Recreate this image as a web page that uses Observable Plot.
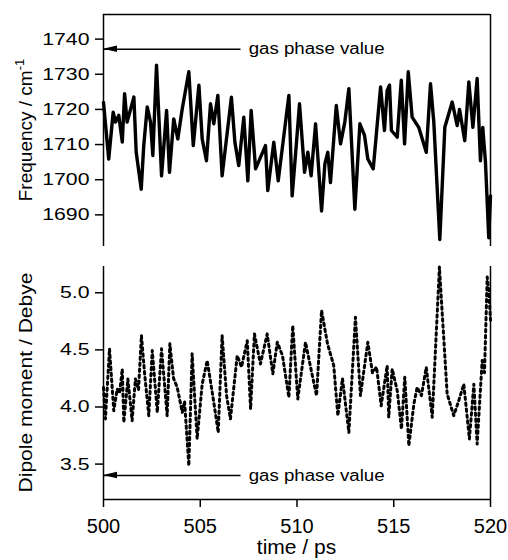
<!DOCTYPE html>
<html><head><meta charset="utf-8">
<script src="https://cdn.jsdelivr.net/npm/d3@7"></script>
<script src="https://cdn.jsdelivr.net/npm/@observablehq/plot@0.6"></script>
<style>
body{margin:0;background:#fff;}
#chart{width:508px;height:560px;position:relative;font-family:"Liberation Sans",Arial,sans-serif;background:#fff;}
#chart svg{display:block;}
</style></head><body><div id="chart"></div>
<script>
const timeTicks = [500, 505, 510, 515, 520];
const freqTicks = [1690, 1700, 1710, 1720, 1730, 1740];
const dipoleTicks = [3.5, 4.0, 4.5, 5.0];
const gasFreq = 1737.1;
const gasDipole = 3.4;
const gasLabel = "gas phase value";

const freqTime = [500.0,500.27,500.50,500.62,500.79,500.97,501.09,501.22,501.57,501.69,501.95,502.08,502.26,502.43,502.55,502.74,503.00,503.26,503.41,503.63,503.84,504.07,504.41,504.64,504.93,505.10,505.32,505.53,505.70,505.91,506.13,506.61,506.79,506.99,507.25,507.46,507.63,507.86,508.37,508.49,508.80,509.03,509.58,509.75,509.92,510.13,510.39,510.56,510.73,510.96,511.27,511.44,511.59,511.73,512.03,512.25,512.47,512.68,512.99,513.25,513.49,513.66,513.94,514.11,514.32,514.52,514.66,514.78,514.88,515.18,515.39,515.56,515.75,515.95,516.29,516.68,516.90,517.07,517.38,517.64,518.02,518.28,518.40,518.67,518.88,519.09,519.31,519.48,519.60,519.74,519.91,520.0];
const freqValue = [1722,1705.9,1719.2,1716.4,1718.3,1710.7,1724.5,1716.4,1723.5,1707.8,1697.3,1709.7,1720.7,1716.4,1706.9,1732.6,1701.1,1719.7,1702.1,1717.3,1711.6,1720.2,1730.7,1709.7,1726.9,1711.6,1705.4,1721.6,1715.9,1724,1701.1,1723.5,1710.7,1704,1717.8,1699.7,1719.7,1703.1,1709.7,1696.9,1710.7,1699.7,1724,1695.4,1706.9,1721.6,1702.1,1707.8,1701.1,1715.9,1691.1,1704.5,1707.8,1699.2,1721.1,1710.2,1716.4,1725.9,1691.6,1715.9,1712.6,1705.9,1703.1,1713.5,1726.4,1714,1725.4,1726.9,1714,1712.1,1728.3,1710.2,1730.7,1717.8,1714.9,1707.8,1727.3,1716.4,1683,1714.9,1722.1,1715.4,1720,1711.1,1727.8,1714.9,1728.8,1705.4,1714.9,1705,1683.5,1695.4];

const dipTime = [500.00,500.10,500.31,500.53,500.71,500.83,500.97,501.05,501.26,501.48,501.65,501.81,501.96,502.12,502.34,502.52,502.78,503.00,503.29,503.43,503.62,503.81,504.07,504.19,504.41,504.58,504.84,505.10,505.36,505.70,505.93,506.13,506.36,506.56,506.91,507.13,507.43,507.60,507.80,508.11,508.46,508.75,508.98,509.25,509.58,509.78,510.04,510.44,510.70,511.01,511.27,511.58,511.90,512.11,512.35,512.68,513.02,513.28,513.66,513.90,514.11,514.35,514.66,514.74,514.92,515.18,515.40,515.57,515.78,516.04,516.21,516.43,516.68,516.99,517.36,517.76,518.10,518.35,518.62,518.91,519.14,519.31,519.57,519.69,519.83,519.91,520.00];
const dipValue = [4.17,3.895,4.509,3.968,4.158,4.12,4.333,3.865,4.246,3.88,4.246,4.15,4.625,4.3,3.924,4.494,3.953,4.509,3.924,4.553,4.25,4.172,3.953,4.05,3.485,4.465,3.72,4.2,4.406,4.04,3.777,4.625,4.1,3.895,4.45,4.35,4.58,3.982,4.64,4.377,4.64,4.29,4.567,4.45,4.084,4.713,4.07,4.567,4.35,4.1,4.845,4.55,4.362,3.924,4.25,3.777,4.786,4.1,4.567,4.3,4.35,4.011,4.362,3.91,4.333,4.143,3.807,4.26,3.66,4.026,4.172,4.1,4.347,3.91,5.225,4.114,3.924,4.05,4.2,3.72,4.2,3.675,4.406,4.3,5.137,5.02,4.76];

const freqData = freqTime.map((t, i) => ({t, v: freqValue[i]}));
const dipData = dipTime.map((t, i) => ({t, v: dipValue[i]}));

const xDomain = [500, 520];
const freqDomain = [1681, 1747];
const dipDomain = [3.19, 5.23];
const arrowTail = 507.08, labelStart = 507.5;
const font = "Liberation Sans, Arial, sans-serif";

const topPlot = Plot.plot({
  width: 508, height: 252,
  marginLeft: 103, marginRight: 18, marginTop: 14, marginBottom: 6,
  style: {fontFamily: font, background: "white", color: "black"},
  x: {domain: xDomain, axis: null},
  y: {domain: freqDomain},
  marks: [
    Plot.axisY({ticks: freqTicks, tickFormat: d => String(d), tickSize: 8, tickPadding: 6, fontSize: 17, strokeWidth: 1.5, label: null}),
    Plot.ruleX(xDomain, {strokeWidth: 1.5}),
    Plot.ruleY([freqDomain[1]], {strokeWidth: 1.5}),
    Plot.line(freqData, {x: "t", y: "v", strokeWidth: 3.4, strokeLinejoin: "round"}),
    Plot.link([{x1: arrowTail, x2: xDomain[0], y: gasFreq}], {x1: "x1", x2: "x2", y1: "y", y2: "y", strokeWidth: 1.5}),
    Plot.text([{x: labelStart, y: gasFreq, text: gasLabel}], {x: "x", y: "y", text: "text", textAnchor: "start", fontSize: 16})
  ]
});

const botPlot = Plot.plot({
  width: 508, height: 308,
  marginLeft: 103, marginRight: 18, marginTop: 14, marginBottom: 61,
  style: {fontFamily: font, background: "white", color: "black"},
  x: {domain: xDomain},
  y: {domain: dipDomain},
  marks: [
    Plot.axisY({ticks: dipoleTicks, tickFormat: d3.format(".1f"), tickSize: 8, tickPadding: 6, fontSize: 17, strokeWidth: 1.5, label: null}),
    Plot.axisX({ticks: timeTicks, tickFormat: d => String(d), tickSize: 8, tickPadding: 11, fontSize: 20, strokeWidth: 1.5, label: null}),
    Plot.ruleX(xDomain, {strokeWidth: 1.5}),
    Plot.ruleY([dipDomain[0]], {strokeWidth: 1.5}),
    Plot.line(dipData, {x: "t", y: "v", strokeWidth: 3, strokeDasharray: "2.5,3.5"}),
    Plot.link([{x1: arrowTail, x2: xDomain[0], y: gasDipole}], {x1: "x1", x2: "x2", y1: "y", y2: "y", strokeWidth: 1.5}),
    Plot.text([{x: labelStart, y: gasDipole, text: gasLabel}], {x: "x", y: "y", text: "text", textAnchor: "start", fontSize: 16})
  ]
});

const chart = document.getElementById("chart");
chart.appendChild(topPlot);
chart.appendChild(botPlot);

function finish(plot, gasVal) {
  const svg = d3.select(plot);
  svg.selectAll('g[aria-label="y-axis tick label"] text').each(function() {
    const t = d3.select(this);
    const tr = t.attr("transform");
    if (tr) t.attr("transform", tr + " scale(1.25,1)");
  });
  svg.selectAll('g[aria-label="text"] text').attr("textLength", 136).attr("lengthAdjust", "spacingAndGlyphs");
  const x0 = plot.scale("x").apply(xDomain[0]);
  const y0 = plot.scale("y").apply(gasVal);
  svg.append("path").attr("d", `M${x0},${y0}L${x0 + 14},${y0 - 3.2}L${x0 + 14},${y0 + 3.2}Z`).attr("fill", "black");
}
finish(topPlot, gasFreq);
finish(botPlot, gasDipole);

{
  const svg = d3.select(topPlot);
  const yc = (topPlot.scale("y").apply(freqDomain[0]) + topPlot.scale("y").apply(freqDomain[1])) / 2;
  const t = svg.append("text").attr("transform", `translate(32,${yc}) rotate(-90)`)
    .attr("text-anchor", "middle").attr("font-family", font).attr("font-size", 19).attr("fill", "black");
  t.append("tspan").text("Frequency / cm");
  t.append("tspan").attr("font-size", 13).attr("dy", -8).text("-1");
}
{
  const svg = d3.select(botPlot);
  const yc = (botPlot.scale("y").apply(dipDomain[0]) + botPlot.scale("y").apply(dipDomain[1])) / 2;
  svg.append("text").attr("transform", `translate(32,${yc}) rotate(-90)`)
    .attr("text-anchor", "middle").attr("font-family", font).attr("font-size", 19).attr("fill", "black")
    .attr("textLength", 220).attr("lengthAdjust", "spacingAndGlyphs")
    .text("Dipole moment / Debye");
  const xc = botPlot.scale("x").apply(510);
  svg.append("text").attr("x", xc).attr("y", 302)
    .attr("text-anchor", "middle").attr("font-family", font).attr("font-size", 21).attr("fill", "black")
    .text("time / ps");
}
</script></body></html>
